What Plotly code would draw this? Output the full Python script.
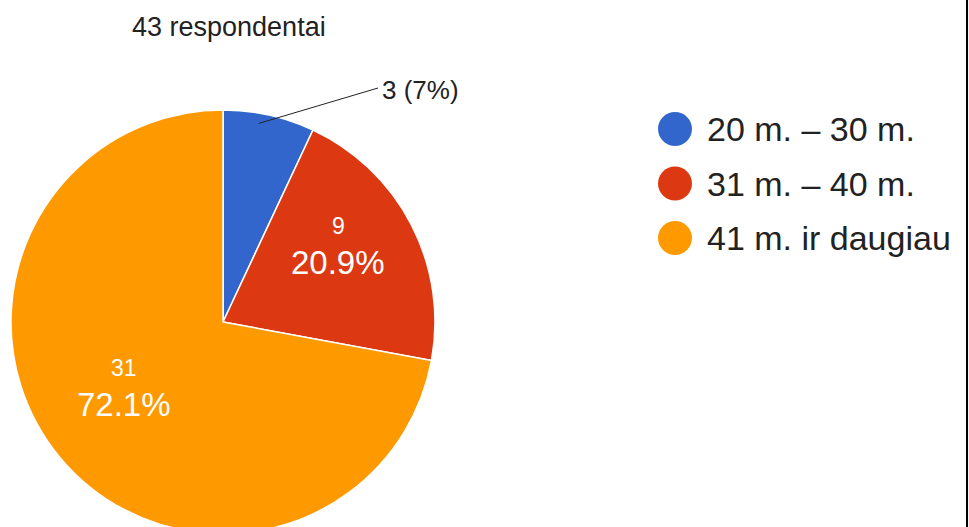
import numpy as np
import plotly.graph_objects as go

# data
categories = ["20 m. – 30 m.", "31 m. – 40 m.", "41 m. ir daugiau"]
counts = [3, 9, 31]
colors = ["#3366cc", "#dc3912", "#ff9900"]
title_text = "43 respondentai"

W, H = 969, 545          # a bit taller than the window so the pie runs off the bottom
cx, cy, R = 223, 322, 212  # pie centre / radius in px
FONT = "Arial, Liberation Sans, sans-serif"


def px(x):
    return x / W


def py(y):
    return 1 - y / H


def label(x, y, text, size, color="#222", xanchor="center"):
    fig.add_annotation(x=px(x), y=py(y), xref="paper", yref="paper", showarrow=False,
                       xanchor=xanchor, yanchor="middle", text=text,
                       font=dict(family=FONT, size=size, color=color))


fig = go.Figure(go.Pie(
    labels=categories, values=counts, sort=False, direction="clockwise", rotation=0,
    marker=dict(colors=colors, line=dict(color="white", width=1.5)),
    textinfo="none", hoverinfo="label+value+percent", showlegend=False,
    domain=dict(x=[px(cx - R), px(cx + R)], y=[py(cy + R), py(cy - R)]),
))

# slice labels, placed along each slice's bisector
vals = np.array(counts, dtype=float)
shares = vals / vals.sum()
mids = 2 * np.pi * (np.cumsum(shares) - shares / 2)
for c, s, a in zip(counts, shares, mids):
    if s < 0.1:
        # small slice: label outside with a leader line
        lx, ly = cx + 0.95 * R * np.sin(a), cy - 0.95 * R * np.cos(a)
        fig.add_shape(type="line", xref="paper", yref="paper",
                      x0=px(lx - 8), y0=py(ly - 2), x1=px(378), y1=py(88),
                      line=dict(color="#222", width=1))
        label(380, 90, f"{c} ({s * 100:.0f}%)", 26, xanchor="left")
        continue
    tx, ty = cx + 0.61 * R * np.sin(a), cy - 0.61 * R * np.cos(a)
    label(tx, ty - 37, str(c), 23, "white")
    label(tx, ty, f"{s * 100:.1f}%", 33, "white")

# title
label(130, 27, title_text, 27, xanchor="left")

# legend with round swatches
for i, (lab, col) in enumerate(zip(categories, colors)):
    ly = 129 + 54.5 * i
    fig.add_shape(type="circle", xref="paper", yref="paper",
                  x0=px(658), x1=px(692), y0=py(ly + 17), y1=py(ly - 17),
                  fillcolor=col, line=dict(width=0))
    label(705, ly, lab, 34, xanchor="left")

# frame edge on the right of the screenshot
fig.add_shape(type="rect", xref="paper", yref="paper", x0=px(968), x1=1, y0=0, y1=1,
              fillcolor="#f4f4f4", line=dict(width=0))
fig.add_shape(type="line", xref="paper", yref="paper", x0=px(967), x1=px(967), y0=0, y1=1,
              line=dict(color="black", width=2))

fig.update_layout(width=W, height=H, margin=dict(l=0, r=0, t=0, b=0),
                  paper_bgcolor="white", plot_bgcolor="white")

fig.write_html("out.html", config={"displayModeBar": False},
               post_script="document.body.style.margin='0';document.body.style.overflow='hidden';")
